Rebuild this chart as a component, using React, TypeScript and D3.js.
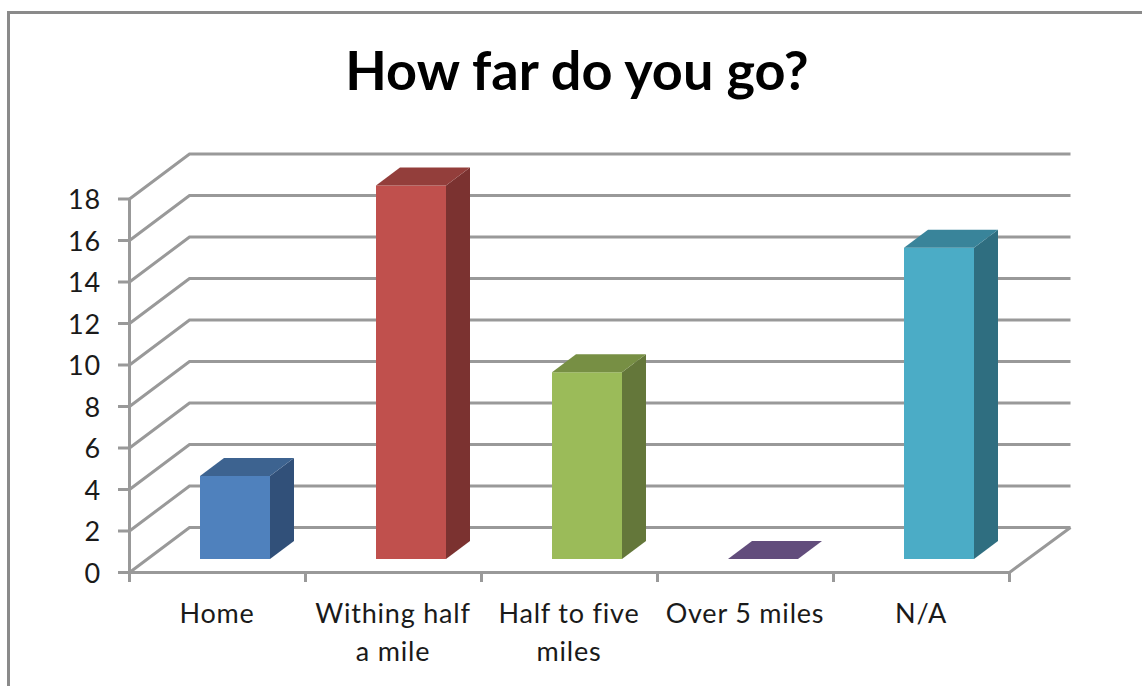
import React from "react";
import * as d3 from "d3";

const categories = ["Home", "Withing half|a mile", "Half to five|miles", "Over 5 miles", "N/A"];
const values = [4, 18, 9, 0, 15];
const yTicks = [0, 2, 4, 6, 8, 10, 12, 14, 16, 18];
const frontColors = ["#4f81bd", "#c0504d", "#9bbb59", "#8064a2", "#4bacc6"];
const topColors = ["#3d6390", "#933e3b", "#778f44", "#624d7c", "#39849a"];
const sideColors = ["#315079", "#7b3230", "#64773a", "#523f68", "#2f6e80"];

const FONT = "Lato, 'Open Sans', sans-serif";
const GRID = "#999999";
const x = d3.scaleBand<number>().domain(d3.range(categories.length)).range([129.5, 1009.5]);
const y = d3.scaleLinear().domain([0, 18]).range([572.5, 199]);
const wallDx = 60, wallDy = -45;
const barDx = 24, barDy = -18, barInset = 70.5, barW = 70, floorOffset = -13.5;
const SW = 3;

const pts = (p: [number, number][]) => p.map((a) => a.join(",")).join(" ");

export default function App() {
  const xEdges = [...x.domain().map((i) => x(i)!), 1009.5];
  return (
    <svg width={1142} height={686} style={{ position: "absolute", left: 0, top: 0, display: "block", background: "#fff" }}>
      <path d="M8.5,686V12.5H1142" fill="none" stroke="#8a8a8a" strokeWidth={3} />
      <text x={577} y={90} textAnchor="middle" fontFamily={FONT} fontWeight={700} fontSize={54} fill="#000">How far do you go?</text>

      {yTicks.map((t) => (
        <g key={t} fill="none" stroke={GRID} strokeWidth={SW}>
          <polyline points={pts([[129.5, y(t)], [129.5 + wallDx, y(t) + wallDy], [1070.5, y(t) + wallDy]])} />
          <line x1={118} x2={129.5} y1={y(t)} y2={y(t)} />
        </g>
      ))}
      <line x1={129.5} x2={129.5} y1={y(18)} y2={582} stroke={GRID} strokeWidth={SW} />
      <polyline points={pts([[129.5, y(0)], [1009.5, y(0)], [1070.5, y(0) + wallDy]])} fill="none" stroke={GRID} strokeWidth={SW} />
      {xEdges.map((e) => (
        <line key={e} x1={e} x2={e} y1={y(0)} y2={582} stroke={GRID} strokeWidth={SW} />
      ))}

      {yTicks.map((t) => (
        <text key={t} x={101} y={y(t) + 10} textAnchor="end" fontFamily={FONT} fontSize={27} letterSpacing={0.8} fill="#1a1a1a">{t}</text>
      ))}

      {values.map((v, i) => {
        const x0 = x(i)! + barInset, x1 = x0 + barW;
        const yb = y(0) + floorOffset, yt = y(v) + floorOffset;
        return (
          <g key={i}>
            {v > 0 && <rect x={x0} y={yt} width={barW} height={yb - yt} fill={frontColors[i]} />}
            {v > 0 && <polygon points={pts([[x1, yt], [x1 + barDx, yt + barDy], [x1 + barDx, yb + barDy], [x1, yb]])} fill={sideColors[i]} />}
            <polygon points={pts([[x0, yt], [x0 + barDx, yt + barDy], [x1 + barDx, yt + barDy], [x1, yt]])} fill={topColors[i]} />
          </g>
        );
      })}

      {categories.map((c, i) => (
        <text key={c} textAnchor="middle" fontFamily={FONT} fontSize={27} letterSpacing={0.8} fill="#1a1a1a">
          {c.split("|").map((l, j) => (
            <tspan key={j} x={x(i)! + x.bandwidth() / 2 - 0.5} y={622.5 + j * 38}>{l}</tspan>
          ))}
        </text>
      ))}
    </svg>
  );
}
